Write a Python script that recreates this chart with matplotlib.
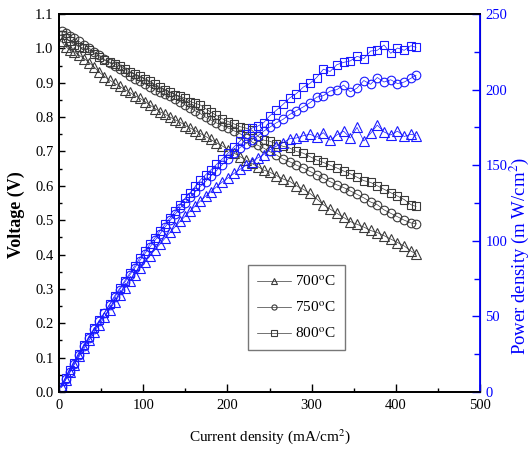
import matplotlib
matplotlib.use("Agg")
import matplotlib.pyplot as plt
from matplotlib.ticker import MultipleLocator, FormatStrFormatter

plt.rcParams['font.family'] = ['Liberation Serif', 'DejaVu Serif']
plt.rcParams['mathtext.fontset'] = 'stix'

# Current density (mA/cm^2)
current = [3, 8, 13, 18, 24, 30, 36, 42, 48, 54, 60, 66, 72, 78, 84, 90, 96, 102, 108, 114,
           120, 126, 132, 138, 144, 150, 156, 162, 168, 174, 180, 187, 194, 201, 208, 215,
           222, 229, 236, 243, 250, 258, 266, 274, 282, 290, 298, 306, 314, 322, 330, 338,
           346, 354, 362, 370, 378, 386, 394, 402, 410, 418, 424]

# Voltage (V)
v_700 = [1.02, 1.005, 0.995, 0.99, 0.98, 0.97, 0.958, 0.945, 0.93, 0.918, 0.908, 0.898, 0.89,
         0.88, 0.872, 0.862, 0.855, 0.845, 0.835, 0.825, 0.815, 0.808, 0.80, 0.792, 0.785,
         0.775, 0.768, 0.76, 0.752, 0.744, 0.735, 0.725, 0.716, 0.705, 0.695, 0.685, 0.675,
         0.665, 0.656, 0.646, 0.64, 0.63, 0.62, 0.613, 0.60, 0.59, 0.578, 0.562, 0.545, 0.532,
         0.52, 0.508, 0.496, 0.488, 0.48, 0.47, 0.464, 0.455, 0.445, 0.435, 0.425, 0.41, 0.402]
v_750 = [1.05, 1.045, 1.035, 1.03, 1.02, 1.01, 1.0, 0.99, 0.98, 0.968, 0.958, 0.948, 0.94,
         0.93, 0.92, 0.912, 0.905, 0.897, 0.888, 0.88, 0.872, 0.866, 0.86, 0.852, 0.845, 0.835,
         0.826, 0.818, 0.81, 0.80, 0.792, 0.783, 0.775, 0.768, 0.76, 0.752, 0.74, 0.728, 0.718,
         0.71, 0.70, 0.69, 0.678, 0.67, 0.66, 0.652, 0.642, 0.632, 0.622, 0.612, 0.603, 0.595,
         0.585, 0.575, 0.565, 0.553, 0.545, 0.53, 0.52, 0.51, 0.50, 0.492, 0.49]
v_800 = [1.04, 1.03, 1.02, 1.01, 1.005, 1.0, 0.995, 0.985, 0.975, 0.965, 0.96, 0.955, 0.95,
         0.94, 0.93, 0.925, 0.92, 0.912, 0.905, 0.895, 0.888, 0.88, 0.872, 0.865, 0.86, 0.855,
         0.845, 0.84, 0.835, 0.825, 0.815, 0.805, 0.795, 0.787, 0.78, 0.772, 0.768, 0.762,
         0.745, 0.733, 0.73, 0.722, 0.715, 0.71, 0.70, 0.695, 0.685, 0.675, 0.668, 0.66, 0.652,
         0.643, 0.635, 0.625, 0.615, 0.61, 0.60, 0.59, 0.58, 0.57, 0.56, 0.545, 0.54]

# Power density (mW/cm^2)
p_700 = [3, 8, 13, 18, 23.5, 29, 34.5, 39.7, 44.6, 49.6, 54.5, 59.3, 64.1, 68.6, 73.2, 77.6,
         82.1, 86.2, 90.2, 94.1, 97.8, 101.8, 105.6, 109.3, 113.0, 116.3, 119.8, 123.1, 126.3,
         129.5, 132.3, 135.6, 138.9, 141.7, 144.6, 147.3, 149.9, 152.3, 154.8, 157.0, 160.0,
         162.5, 164.9, 167.5, 168.0, 169.5, 170.5, 168.5, 171.5, 166.5, 170.0, 172.5, 168.0,
         175.0, 166.0, 171.0, 176.5, 172.0, 170.0, 172.5, 169.0, 170.5, 169.5]
p_750 = [3.2, 8.4, 13.5, 18.5, 24.5, 30.3, 36.0, 41.6, 47.0, 52.3, 57.5, 62.6, 67.7, 72.5,
         77.3, 82.1, 86.9, 91.5, 95.9, 100.3, 104.6, 109.1, 113.5, 117.6, 121.7, 125.3, 128.9,
         132.5, 136.1, 139.2, 142.6, 146.4, 150.4, 154.4, 158.1, 161.7, 164.3, 166.7, 169.4,
         172.5, 175.0, 178.0, 180.3, 183.6, 186.1, 188.5, 191.3, 195.0, 196.0, 199.0, 200.0,
         203.0, 198.5, 201.0, 206.0, 203.5, 208.0, 205.0, 206.5, 204.0, 205.0, 207.5, 209.5]
p_800 = [3.5, 9.5, 14.5, 19.5, 25.0, 31.0, 36.5, 42.0, 47.5, 52.5, 58.0, 63.5, 68.5, 73.5,
         78.5, 83.5, 88.5, 93.0, 97.7, 102.0, 106.6, 110.9, 115.1, 119.4, 123.8, 128.3, 131.8,
         136.1, 140.3, 143.6, 146.7, 150.5, 154.2, 158.2, 162.2, 166.0, 170.5, 174.5, 175.8,
         178.1, 182.5, 186.3, 190.2, 194.5, 197.4, 201.6, 204.1, 208.0, 213.5, 212.0, 216.5,
         218.0, 219.0, 222.0, 220.5, 225.5, 226.0, 229.5, 224.0, 227.5, 226.0, 229.0, 228.0]

labels = ['700$^{\\mathrm{o}}$C', '750$^{\\mathrm{o}}$C', '800$^{\\mathrm{o}}$C']
markers = ['^', 'o', 's']

fig = plt.figure(figsize=(5.31, 4.51), dpi=100)
ax = fig.add_axes([59 / 531, 1 - 392 / 451, 421 / 531, 378 / 451])
ax2 = ax.twinx()

vcol = '#3a3a3a'
pcol = '#1a1aff'
handles = []
for v, m, lab in zip([v_700, v_750, v_800], markers, labels):
    ms = 7 if m == '^' else 6.2
    h, = ax.plot(current, v, marker=m, ms=ms, mfc='none', mec=vcol, mew=0.8,
                 color=vcol, lw=0.5, label=lab)
    handles.append(h)
for p, m in zip([p_700, p_750, p_800], markers):
    ms = 7 if m == '^' else 6.2
    ax2.plot(current, p, marker=m, ms=ms, mfc='none', mec=pcol, mew=0.8,
             color=pcol, lw=0.5)

ax.set_xlim(0, 500)
ax.set_ylim(0, 1.1)
ax2.set_ylim(0, 250)

ax.xaxis.set_major_locator(MultipleLocator(100))
ax.xaxis.set_minor_locator(MultipleLocator(50))
ax.yaxis.set_major_locator(MultipleLocator(0.1))
ax.yaxis.set_minor_locator(MultipleLocator(0.05))
ax.yaxis.set_major_formatter(FormatStrFormatter('%.1f'))
ax2.yaxis.set_major_locator(MultipleLocator(50))
ax2.yaxis.set_minor_locator(MultipleLocator(25))

ax.tick_params(axis='both', which='both', direction='in', labelsize=10.5, top=False, right=False)
ax.tick_params(axis='x', which='major', length=5.5, width=1, pad=5)
ax.tick_params(axis='x', which='minor', length=3, width=1)
ax.tick_params(axis='y', which='major', length=4, width=1, pad=4)
ax.tick_params(axis='y', which='minor', length=2.5, width=1)
ax2.tick_params(axis='y', which='both', direction='in', colors='blue', labelsize=10.5)
ax2.tick_params(axis='y', which='major', length=5.5, width=1, pad=4)
ax2.tick_params(axis='y', which='minor', length=4, width=1)

for s in ['left', 'bottom', 'top']:
    ax.spines[s].set_linewidth(1.3)
    ax2.spines[s].set_linewidth(1.3)
ax2.spines['right'].set_color('blue')
ax2.spines['right'].set_linewidth(1.3)

ax.set_xlabel('Current density (mA/cm$^2$)', fontsize=11)
ax.xaxis.set_label_coords(0.5, -0.093)
ax.set_ylabel('Voltage (V)', fontsize=13, fontweight='bold')
ax.yaxis.set_label_coords(-0.08, 0.47)
ax2.set_ylabel('Power density (m W/cm$^2$)', fontsize=13.5, color='blue')
ax2.yaxis.set_label_coords(1.066, 0.36)

leg = ax2.legend(handles=handles, labels=labels, loc='upper left',
                 bbox_to_anchor=(0.449, 0.336), fontsize=11, markerscale=0.6,
                 handlelength=2.2, frameon=True, fancybox=False, borderpad=0.6,
                 labelspacing=0.75, handletextpad=0.3, borderaxespad=0)
leg.get_frame().set_edgecolor('#555555')
leg.get_frame().set_linewidth(1.0)

fig.savefig('out.png', dpi=100)
